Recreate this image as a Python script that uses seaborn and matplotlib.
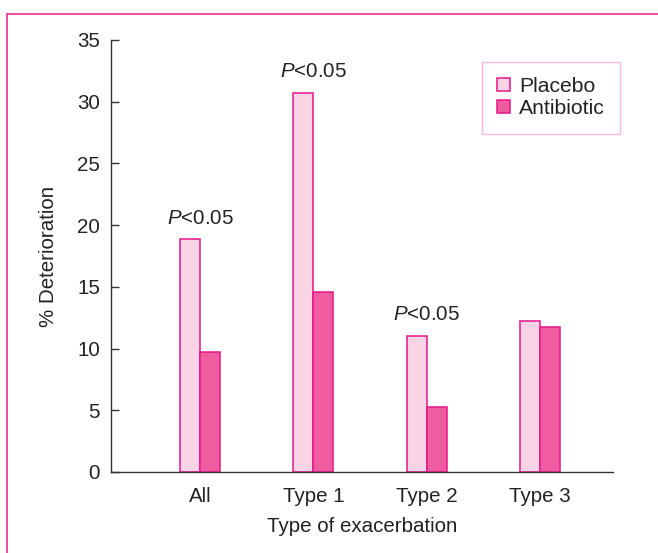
import matplotlib
matplotlib.use("Agg")
import matplotlib.pyplot as plt
from matplotlib.lines import Line2D
import seaborn as sns
import pandas as pd

categories = ["All", "Type 1", "Type 2", "Type 3"]
placebo = [18.85, 30.7, 11.05, 12.25]
antibiotic = [9.7, 14.6, 5.3, 11.75]
significant = ["All", "Type 1", "Type 2"]
y_ticks = [0, 5, 10, 15, 20, 25, 30, 35]

df = pd.DataFrame({
    "Type of exacerbation": categories * 2,
    "% Deterioration": placebo + antibiotic,
    "Group": ["Placebo"] * len(categories) + ["Antibiotic"] * len(categories),
})

sns.set_theme(style="white")
plt.rcParams["font.family"] = ["Liberation Sans", "DejaVu Sans"]
plt.rcParams["mathtext.fontset"] = "custom"
plt.rcParams["mathtext.rm"] = "Liberation Sans"
plt.rcParams["mathtext.it"] = "Liberation Sans:italic"

fs = 14.8
text_color = "#222222"
edge = "#E8158A"
palette = {"Placebo": "#F9D4E5", "Antibiotic": "#EF5C9F"}

fig = plt.figure(figsize=(6.58, 5.53), dpi=100)
ax = fig.add_axes([0.1687, 0.1465, 0.9316 - 0.1687, 0.9277 - 0.1465])

sns.barplot(data=df, x="Type of exacerbation", y="% Deterioration", hue="Group",
            order=categories, hue_order=["Placebo", "Antibiotic"], palette=palette,
            width=0.353, gap=0, edgecolor=edge, linewidth=1.1, saturation=1,
            errorbar=None, ax=ax)

ax.set_ylim(0, 35)
ax.set_xlim(-0.786, 3.645)
ax.set_yticks(y_ticks)
ax.tick_params(axis="y", direction="in", length=6, width=1, color="#333333",
               labelsize=fs, labelcolor=text_color, pad=8, left=True)
ax.tick_params(axis="x", length=0, labelsize=fs, labelcolor=text_color, pad=11)
for side in ["top", "right"]:
    ax.spines[side].set_visible(False)
for side in ["left", "bottom"]:
    ax.spines[side].set_color("#333333")
    ax.spines[side].set_linewidth(1.0)
ax.set_xlabel("Type of exacerbation", fontsize=fs, color=text_color, labelpad=8)
ax.set_ylabel("% Deterioration", fontsize=fs, color=text_color, labelpad=14)

for cat in significant:
    i = categories.index(cat)
    top = max(placebo[i], antibiotic[i])
    ax.text(i, top + 1.28, r"$\mathit{P}$<0.05", ha="center", va="baseline",
            fontsize=fs, color=text_color)

leg = ax.legend(loc="upper right", bbox_to_anchor=(1.014, 0.949), frameon=True,
                fancybox=False, fontsize=15.2, handlelength=0.58, handleheight=0.58,
                handletextpad=0.45, borderpad=0.72, labelspacing=0.15, title=None,
                borderaxespad=0)
leg.get_frame().set_edgecolor("#F7A9CD")
leg.get_frame().set_linewidth(1.0)
for t in leg.get_texts():
    t.set_color(text_color)

# pink frame around the panel
fig.add_artist(Line2D([7 / 658, 1.0], [1 - 14 / 553, 1 - 14 / 553],
                      transform=fig.transFigure, color="#EC3E98", linewidth=1.3))
fig.add_artist(Line2D([7 / 658, 7 / 658], [0.0, 1 - 14 / 553],
                      transform=fig.transFigure, color="#EC3E98", linewidth=1.3))

fig.savefig("out.png", dpi=100)
